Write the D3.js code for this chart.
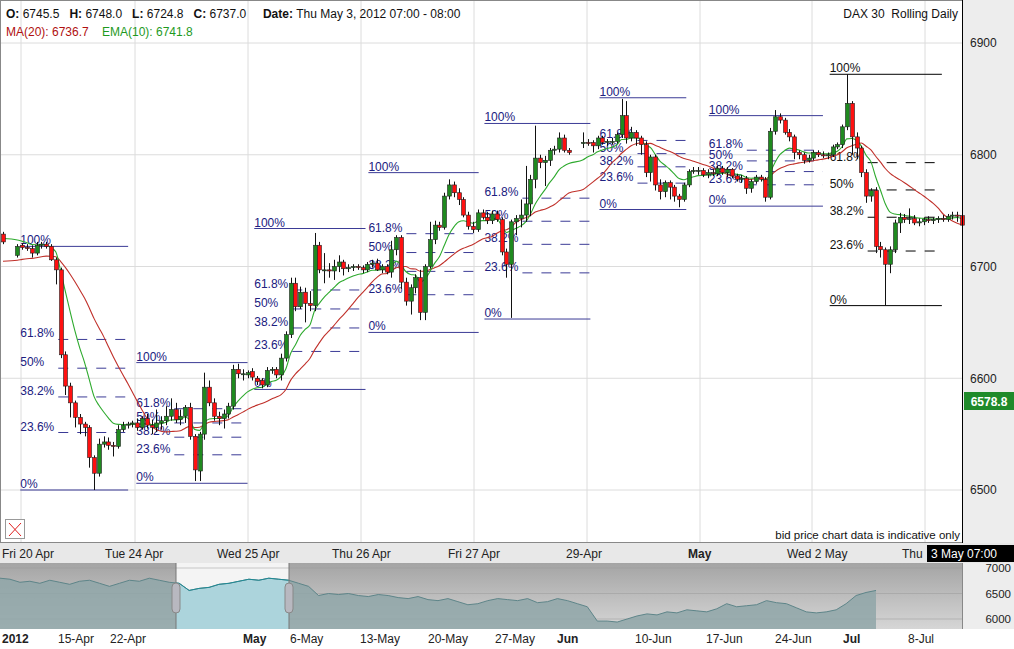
<!DOCTYPE html>
<html><head><meta charset="utf-8">
<script src="https://cdn.jsdelivr.net/npm/d3@7"></script>
<style>body{margin:0;background:#fff;font-family:"Liberation Sans",Arial,sans-serif}</style>
</head><body><svg id="c" width="1014" height="649"></svg>
<script>
// ---- data ----
const candles = [
[6729,6731,6720,6722],null,null,
[6710,6720,6708,6718],[6719,6721,6715,6717],[6717,6720,6714,6716],[6716,6719,6708,6712],[6712,6722,6710,6719],
[6719,6722,6716,6720],[6720,6722,6716,6718],[6718,6720,6705,6706],[6706,6708,6684,6697],[6697,6699,6618,6621],
[6621,6624,6585,6593],[6593,6596,6565,6578],[6578,6580,6556,6565],[6565,6568,6550,6559],[6559,6561,6548,6556],
[6556,6558,6520,6529],[6529,6531,6500,6515],[6515,6546,6512,6541],[6541,6548,6538,6543],[6543,6547,6536,6540],
[6540,6543,6530,6539],[6539,6558,6537,6554],[6554,6561,6552,6558],[6558,6561,6555,6559],[6559,6562,6556,6560],
[6560,6564,6553,6556],[6556,6566,6554,6564],[6564,6568,6555,6558],[6558,6563,6550,6556],[6556,6572,6552,6560],
[6560,6566,6554,6562],[6562,6575,6558,6566],[6566,6582,6562,6572],[6572,6578,6560,6563],[6563,6572,6558,6566],
[6566,6576,6560,6574],[6574,6578,6545,6548],[6548,6550,6508,6518],[6517,6552,6508,6550],[6550,6605,6545,6592],
[6592,6598,6575,6578],[6578,6582,6562,6566],[6566,6570,6558,6564],[6564,6572,6555,6568],[6568,6578,6564,6575],
[6575,6612,6572,6608],[6608,6613,6600,6604],[6604,6608,6598,6604],[6603,6607,6600,6605],[6606,6609,6598,6601],
[6600,6602,6594,6597],[6598,6600,6591,6594],[6594,6610,6592,6607],[6607,6610,6604,6608],[6608,6610,6600,6603],
[6603,6622,6598,6618],[6618,6642,6615,6639],[6639,6690,6636,6685],[6685,6690,6660,6664],[6664,6682,6662,6677],
[6677,6681,6650,6667],[6667,6678,6660,6665],[6665,6730,6660,6719],[6719,6722,6694,6697],[6697,6712,6685,6697],
[6697,6703,6690,6696],[6696,6706,6688,6700],[6700,6710,6695,6704],[6704,6706,6692,6698],[6698,6702,6695,6699],
[6699,6702,6696,6700],[6700,6702,6697,6699],[6699,6701,6694,6697],[6697,6704,6695,6702],[6702,6706,6699,6703],
[6703,6707,6696,6697],[6697,6702,6694,6700],[6700,6702,6693,6695],[6695,6723,6690,6715],[6715,6728,6710,6726],
[6726,6728,6680,6686],[6686,6690,6665,6669],[6669,6684,6657,6681],[6681,6693,6676,6690],[6690,6697,6652,6659],
[6659,6702,6652,6700],[6700,6740,6698,6724],[6724,6741,6720,6737],[6737,6740,6732,6735],[6735,6766,6733,6763],
[6763,6778,6760,6773],[6773,6776,6762,6766],[6766,6770,6755,6760],[6760,6762,6744,6746],[6746,6749,6733,6736],
[6736,6740,6730,6733],[6733,6751,6731,6748],[6748,6751,6742,6744],[6744,6749,6738,6741],[6741,6750,6738,6747],
[6747,6750,6740,6742],[6742,6744,6710,6713],[6713,6716,6690,6702],[6702,6742,6654,6740],[6740,6746,6728,6743],
[6743,6760,6735,6746],[6746,6790,6740,6756],[6756,6782,6745,6778],[6778,6826,6770,6797],[6797,6800,6788,6793],
[6793,6799,6772,6795],[6795,6806,6790,6804],[6804,6808,6800,6805],[6805,6820,6802,6815],[6815,6818,6802,6804],
[6804,6806,6800,6802],null,null,
[6810,6820,6806,6811],[6811,6814,6808,6810],[6811,6813,6802,6808],[6808,6817,6805,6815],[6815,6817,6809,6811],
[6811,6814,6808,6812],[6812,6815,6809,6812],[6812,6820,6810,6818],[6818,6850,6815,6835],[6835,6848,6810,6815],
[6815,6825,6812,6820],[6820,6822,6808,6815],[6815,6817,6800,6809],[6809,6812,6780,6784],[6784,6800,6776,6798],
[6798,6800,6768,6773],[6773,6778,6760,6767],[6767,6777,6762,6775],[6775,6777,6760,6771],[6771,6773,6758,6763],
[6763,6765,6753,6760],[6760,6775,6758,6773],[6773,6787,6771,6785],[6785,6789,6783,6786],[6786,6789,6782,6786],
[6786,6788,6780,6782],[6782,6787,6779,6784],[6784,6787,6781,6783],[6783,6790,6781,6788],[6788,6790,6782,6784],
[6784,6789,6780,6787],[6787,6788,6779,6781],[6781,6783,6776,6778],[6778,6782,6775,6779],[6779,6781,6765,6770],
[6770,6778,6766,6776],[6776,6782,6774,6780],[6780,6782,6776,6778],[6778,6780,6758,6762],[6762,6824,6760,6821],
[6821,6840,6818,6834],[6834,6837,6828,6831],[6831,6833,6818,6820],[6820,6823,6812,6816],[6816,6818,6796,6802],
[6802,6804,6796,6800],[6800,6802,6792,6795],[6795,6800,6793,6797],[6797,6804,6795,6802],[6802,6804,6798,6800],
[6800,6803,6797,6799],[6799,6802,6796,6800],[6800,6809,6798,6807],[6807,6811,6805,6809],[6809,6827,6806,6825],
[6825,6872,6822,6846],[6846,6848,6800,6816],[6816,6820,6796,6806],[6806,6808,6780,6784],[6784,6787,6757,6763],
[6763,6770,6758,6768],[6768,6771,6712,6718],[6718,6722,6708,6715],[6715,6717,6665,6702],[6702,6718,6694,6715],
[6715,6742,6712,6739],[6739,6748,6730,6744],[6744,6747,6739,6742],[6742,6752,6738,6743],[6743,6746,6737,6739],
[6739,6743,6736,6740],[6740,6744,6737,6742],[6742,6745,6739,6741],[6741,6744,6738,6742],[6742,6745,6739,6743],
[6743,6746,6740,6742],[6742,6747,6740,6745],[6745,6749,6742,6746],[6746,6749,6740,6745],[6745.5,6748,6724.8,6737]
];
// Fibonacci retracements: [startSlot, endSlot, high, low, colour key]
const fibs = [
[3.6,26.1,6718,6500,"b"],[27.8,51,6614,6506,"b"],[52.4,75.6,6734,6590,"b"],[76.2,99.2,6784,6641,"b"],
[100.4,122.5,6828,6653,"b"],[124.4,142.5,6851,6751,"b"],[147.2,171,6835,6754,"b"],[172.4,195.8,6872,6665,"k"]
];
const fibLevels = [1,0.618,0.5,0.382,0.236,0];
const priceTicks = [6500,6600,6700,6800,6900];
const dayLabels = [["Fri 20 Apr",2,false],["Tue 24 Apr",105,false],["Wed 25 Apr",217,false],["Thu 26 Apr",332,false],
 ["Fri 27 Apr",448,false],["29-Apr",566,false],["May",688,true],["Wed 2 May",787,false],["Thu",902,false]];
const navValues = [6800,6780,6720,6740,6700,6760,6720,6680,6740,6760,6700,6640,6700,6760,6740,6800,6760,6720,6700,
 6560,6600,6620,6680,6700,6740,6780,6760,6800,6780,6760,6700,6640,6460,6500,6480,6500,6460,6440,6480,6460,6420,6400,
 6440,6380,6360,6400,6340,6280,6300,6360,6400,6380,6360,6400,6320,6340,6400,6360,6300,6240,5960,5960,5940,6000,6060,
 6100,6080,6140,6120,6180,6160,6140,6200,6300,6240,6260,6280,6360,6320,6300,6220,6140,6120,6140,6180,6300,6460,6520,6560];
const navTicks = [6000,6500,7000];
const navLabels = [["2012",2,true],["15-Apr",58,false],["22-Apr",110,false],["May",243,true],["6-May",290,false],
 ["13-May",360,false],["20-May",428,false],["27-May",495,false],["Jun",557,true],["10-Jun",635,false],
 ["17-Jun",706,false],["24-Jun",775,false],["Jul",843,true],["8-Jul",908,false]];

// ---- drawing ----
const svg = d3.select("#c");
const W=962, H=543;
const x = d3.scaleLinear().domain([0,candles.length-1]).range([3,W]);
const y = d3.scaleLinear().domain([6500,6900]).range([490,43]);

svg.append("rect").attr("x",W).attr("y",0).attr("width",52).attr("height",H).attr("fill","#ededed");
const g = svg.append("g");
priceTicks.forEach(v=>g.append("line").attr("x1",0).attr("x2",W).attr("y1",y(v)).attr("y2",y(v)).attr("stroke","#dcdcdc"));
[21,135,248,361,474,587,700,812,925].forEach(v=>g.append("line").attr("x1",v).attr("x2",v).attr("y1",0).attr("y2",H).attr("stroke","#dcdcdc"));
const ax = d3.axisRight(y).tickValues(priceTicks).tickSize(0).tickPadding(8).tickFormat(d3.format("d"));
const axg = svg.append("g").attr("transform",`translate(${W},0)`).call(ax);
axg.select(".domain").attr("stroke","#000");
axg.selectAll("text").attr("font-size",12).attr("fill","#222").attr("font-family","Liberation Sans");

fibs.forEach(f=>{
  const col = f[4]==="k"?"#000":"#3b3b96", tcol=f[4]==="k"?"#111":"#202080";
  const x0=x(f[0]), x1=x(f[1]);
  fibLevels.forEach(l=>{
    const yy = y(f[3]+l*(f[2]-f[3]));
    const solid = (l===1||l===0);
    g.append("line").attr("x1",solid?x0:x0+38).attr("x2",x1).attr("y1",yy).attr("y2",yy)
      .attr("stroke",col).attr("stroke-dasharray",solid?null:"10,9");
    g.append("text").attr("x",x0).attr("y",yy-2).text(String(Math.round(l*1000)/10)+"%")
      .attr("font-size",12).attr("fill",tcol);
  });
});

const closes = candles.map(c=>c?c[3]:null);
const ema=[], ma=[]; let e=null; const win=[6700,6702,6704,6706,6706,6704,6706,6708,6706,6704,6702,6700,6700,6702,6704,6706,6706,6704,6702];
closes.forEach((c,i)=>{
  if(c==null){ema.push(null);ma.push(null);return;}
  e = e==null?6725:e+(c-e)*2/11; ema.push([i,e]);
  win.push(c); if(win.length>20) win.shift(); ma.push([i,d3.mean(win)]);
});
const line = d3.line().x(d=>x(d[0])).y(d=>y(d[1])).curve(d3.curveMonotoneX);
g.append("path").attr("d",line(ma.filter(Boolean))).attr("fill","none").attr("stroke","#c0302a").attr("stroke-width",1.1);
g.append("path").attr("d",line(ema.filter(Boolean))).attr("fill","none").attr("stroke","#2eaa2e").attr("stroke-width",1.1);

candles.forEach((c,i)=>{
  if(!c) return;
  const cx = Math.round(x(i))+0.5;
  g.append("line").attr("x1",cx).attr("x2",cx).attr("y1",y(c[1])).attr("y2",y(c[2])).attr("stroke","#111");
  const up=c[3]>=c[0];
  const top=y(Math.max(c[0],c[3])), bot=y(Math.min(c[0],c[3]));
  g.append("rect").attr("x",cx-2).attr("y",top).attr("width",4).attr("height",Math.max(1,bot-top))
   .attr("fill",up?"#1f8a1f":"#ff1010").attr("stroke","#222").attr("stroke-width",0.6);
});

const hd = svg.append("text").attr("x",6).attr("y",18).attr("font-size",12).attr("fill","#111").attr("style","white-space:pre");
[["O: ",true],["6745.5   ",false],["H: ",true],["6748.0   ",false],["L: ",true],["6724.8   ",false],["C: ",true],["6737.0     ",false],["Date: ",true],["Thu May 3, 2012 07:00 - 08:00",false]]
 .forEach(p=>hd.append("tspan").text(p[0]).attr("font-weight",p[1]?"bold":null));
svg.append("text").attr("x",6).attr("y",36).attr("font-size",12).attr("fill","#b01010").text("MA(20): 6736.7");
svg.append("text").attr("x",102).attr("y",36).attr("font-size",12).attr("fill","#1e9a1e").text("EMA(10): 6741.8");
svg.append("text").attr("x",958).attr("y",18).attr("font-size",12).attr("text-anchor","end").attr("fill","#111").attr("style","white-space:pre").text("DAX 30  Rolling Daily");
svg.append("text").attr("x",960).attr("y",539).attr("font-size",11.5).attr("text-anchor","end").attr("fill","#111").text("bid price chart data is indicative only");
svg.append("rect").attr("x",5.5).attr("y",519.5).attr("width",19).attr("height",19).attr("fill","#fff").attr("stroke","#999");
svg.append("path").attr("d","M9,523 L21,536 M21,523 L9,536").attr("stroke","#e02020");
svg.append("rect").attr("x",0.5).attr("y",0.5).attr("width",W).attr("height",H-1).attr("fill","none").attr("stroke","#888");
svg.append("line").attr("x1",W+0.5).attr("x2",W+0.5).attr("y1",0).attr("y2",H).attr("stroke","#000");
svg.append("rect").attr("x",964).attr("y",392).attr("width",50).attr("height",18).attr("fill","#1f8a2a");
svg.append("text").attr("x",989).attr("y",405.5).attr("text-anchor","middle").attr("font-size",12).attr("font-weight","bold").attr("fill","#fff").text("6578.8");

svg.append("rect").attr("x",0).attr("y",H).attr("width",1014).attr("height",20).attr("fill","#e8e8e8");
dayLabels.forEach(d=>svg.append("text").attr("x",d[1]).attr("y",558).attr("font-size",12).attr("font-weight",d[2]?"bold":null).attr("fill","#222").text(d[0]));
svg.append("rect").attr("x",927).attr("y",545).attr("width",87).attr("height",17).attr("fill","#000");
svg.append("text").attr("x",931).attr("y",558).attr("font-size",12).attr("fill","#fff").text("3 May 07:00");

const ny = d3.scaleLinear().domain([6000,7000]).range([619,568]);
const nx = d3.scaleLinear().domain([0,navValues.length-1]).range([0,876]);
const defs = svg.append("defs");
const lg = defs.append("linearGradient").attr("id","ng").attr("x1",0).attr("x2",0).attr("y1",0).attr("y2",1);
lg.append("stop").attr("offset","0").attr("stop-color","#a4a4a4");lg.append("stop").attr("offset","1").attr("stop-color","#d6d6d6");
svg.append("rect").attr("x",0).attr("y",563).attr("width",962).attr("height",66).attr("fill","url(#ng)");
svg.append("rect").attr("x",962).attr("y",563).attr("width",52).attr("height",66).attr("fill","#ededed");
svg.append("rect").attr("x",176).attr("y",563).attr("width",113).attr("height",66).attr("fill","#f4f4f4");
navTicks.forEach(v=>svg.append("line").attr("x1",0).attr("x2",962).attr("y1",ny(v)).attr("y2",ny(v)).attr("stroke","#9a9a9a").attr("stroke-opacity",0.5));
const area = d3.area().x((d,i)=>nx(i)).y0(629).y1(d=>ny(d));
svg.append("path").attr("d",area(navValues)).attr("fill","#8fa6a8").attr("fill-opacity",0.85);
svg.append("clipPath").attr("id","sel").append("rect").attr("x",176).attr("y",563).attr("width",113).attr("height",66);
svg.append("path").attr("d",area(navValues)).attr("fill","#acd4dc").attr("clip-path","url(#sel)");
svg.append("path").attr("d",d3.line().x((d,i)=>nx(i)).y(d=>ny(d))(navValues)).attr("fill","none").attr("stroke","#5e8589");
svg.append("path").attr("d",d3.line().x((d,i)=>nx(i)).y(d=>ny(d))(navValues)).attr("fill","none").attr("stroke","#1f8a95").attr("clip-path","url(#sel)");
[176,289].forEach(v=>{
  svg.append("line").attr("x1",v).attr("x2",v).attr("y1",563).attr("y2",629).attr("stroke","#777");
  svg.append("rect").attr("x",v-4).attr("y",583).attr("width",8).attr("height",30).attr("rx",4).attr("fill","#b8b8c0").attr("stroke","#888");
});
svg.append("line").attr("x1",962.5).attr("x2",962.5).attr("y1",563).attr("y2",629).attr("stroke","#888");
navTicks.forEach(v=>svg.append("text").attr("x",1011).attr("y",ny(v)+4).attr("text-anchor","end").attr("font-size",11.5).attr("fill","#222").text(v));
svg.append("rect").attr("x",0).attr("y",629).attr("width",1014).attr("height",20).attr("fill","#fff");
navLabels.forEach(d=>svg.append("text").attr("x",d[1]).attr("y",643).attr("font-size",12).attr("font-weight",d[2]?"bold":null).attr("fill","#222").text(d[0]));
</script></body></html>
